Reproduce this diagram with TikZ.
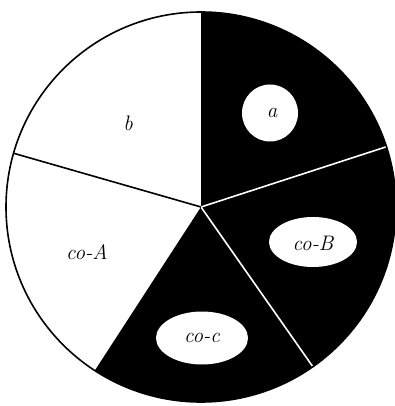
\documentclass[tikz,border=0pt]{standalone}
\usetikzlibrary{shapes.geometric}
\begin{document}
\begin{tikzpicture}[x=1pt,y=-1pt,
  lbl/.style={font=\fontsize{21}{25}\selectfont\itshape, inner sep=0pt},
  hole/.style={ellipse, fill=white, draw=none, inner sep=0pt},
  spokewhite/.style={white, line width=1.6pt},
  spokeblack/.style={black, line width=1.6pt}]
\useasboundingbox (0,0) rectangle (395,406);
\coordinate (C) at (201,207);
\def\R{195}
% black sectors (visual 90 -> -123 clockwise)
\fill[black] (C) -- ++(-90:\R) arc[start angle=-90, end angle=123, radius=\R] -- cycle;
% spokes
\path (C) ++(-18:\R) coordinate (p2);
\path (C) ++(55:\R) coordinate (p3);
\path (C) ++(-164:\R) coordinate (p5);
\draw[spokewhite] (C) -- (p2);
\draw[spokewhite] (C) -- (p3);
\draw[spokeblack] (C) -- (p5);
\draw[black, line width=1.6pt] (C) circle[radius=\R];
% holes
\node[hole, minimum width=56pt, minimum height=57pt] (ha) at (270,113) {};
\node[hole, minimum width=88pt, minimum height=50pt] (hB) at (313,242) {};
\node[hole, minimum width=92pt, minimum height=53pt] (hc) at (202,338) {};
% labels
\node[lbl] (la) at (272,113) {a};
\node[lbl] (lb) at (128,123) {b};
\node[lbl] (lA) at (87,252) {co-A};
\node[lbl] (lB) at (313,243) {co-B};
\node[lbl] (lc) at (202,338) {co-c};
\end{tikzpicture}
\end{document}
